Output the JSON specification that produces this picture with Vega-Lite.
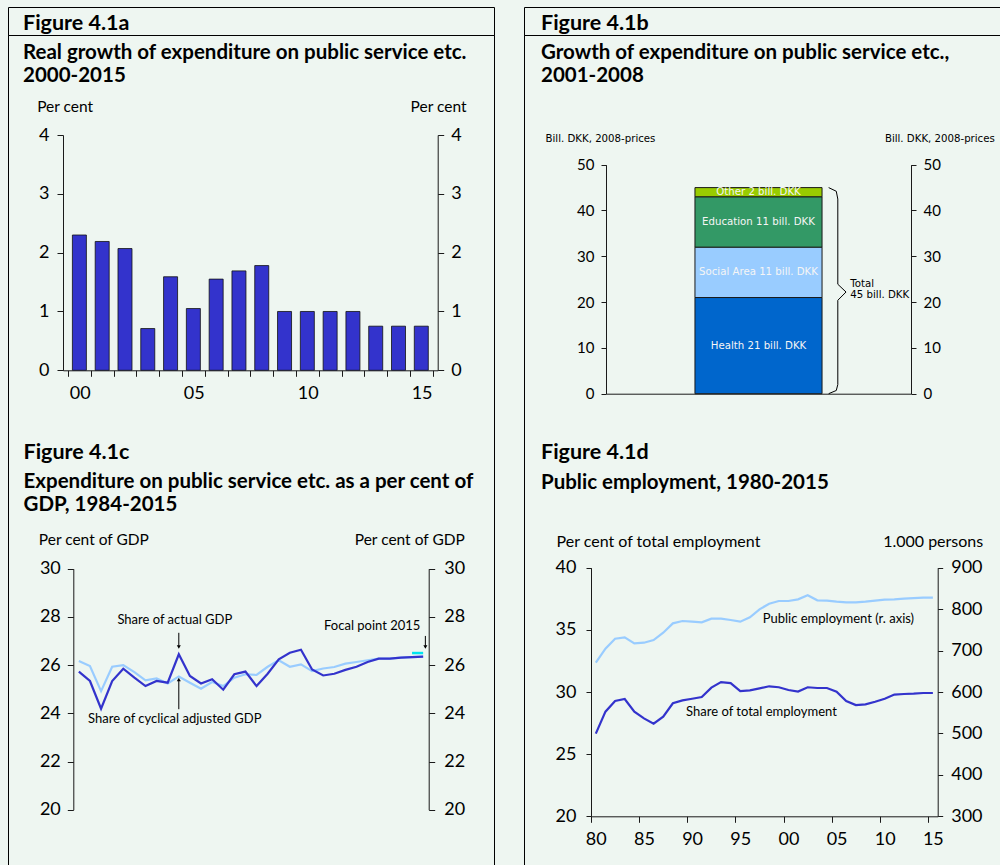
{
  "$schema": "https://vega.github.io/schema/vega-lite/v6.json",
  "background": "#eef6f1",
  "padding": {"left": 7, "top": 6, "right": 0, "bottom": 0},
  "bounds": "flush",
  "columns": 2,
  "spacing": {"row": 0, "column": 30},
  "concat": [
    {
      "width": 486, "height": 28,
      "title": {"text": "Figure 4.1a", "subtitle": ["Real growth of expenditure on public service etc.", "2000-2015"], "dx": 15, "offset": -79.3},
      "data": {"values": [
        {"year": 2000, "growth": 2.3}, {"year": 2001, "growth": 2.19}, {"year": 2002, "growth": 2.07},
        {"year": 2003, "growth": 0.71}, {"year": 2004, "growth": 1.59}, {"year": 2005, "growth": 1.05},
        {"year": 2006, "growth": 1.55}, {"year": 2007, "growth": 1.69}, {"year": 2008, "growth": 1.78},
        {"year": 2009, "growth": 1.0}, {"year": 2010, "growth": 1.0}, {"year": 2011, "growth": 1.0},
        {"year": 2012, "growth": 1.0}, {"year": 2013, "growth": 0.75}, {"year": 2014, "growth": 0.75},
        {"year": 2015, "growth": 0.75}
      ]},
      "encoding": {
        "x": {"field": "year", "type": "quantitative",
          "scale": {"domain": [1999.5, 2015.5], "range": [55, 429.7], "nice": false, "zero": false},
          "axis": {"orient": "bottom", "offset": 335.3, "title": null,
            "values": [1999.5, 2000.5, 2001.5, 2002.5, 2003.5, 2004.5, 2005.5, 2006.5, 2007.5, 2008.5, 2009.5, 2010.5, 2011.5, 2012.5, 2013.5, 2014.5, 2015.5],
            "labelExpr": "(datum.value + 0.5) % 5 == 0 ? format((datum.value + 0.5) % 100, '02d') : ''",
            "labelOffset": 11.7, "labelPadding": 8}}
      },
      "layer": [
        {"mark": {"type": "bar", "width": 14, "color": "#3333cc"},
         "encoding": {"y": {"field": "growth", "type": "quantitative",
           "scale": {"domain": [0, 4], "range": [363.3, 128], "nice": false},
           "axis": {"orient": "left", "offset": -55, "values": [0, 1, 2, 3, 4], "labelPadding": 8,
             "title": "Per cent", "titleFontSize": 15.5, "titleAngle": 0, "titleAlign": "left", "titleBaseline": "alphabetic", "titleX": -26.3, "titleY": 104}}}},
        {"mark": {"type": "bar", "width": 14, "fillOpacity": 0, "stroke": "#111111", "strokeWidth": 0.8},
         "encoding": {"y": {"field": "growth", "type": "quantitative",
           "axis": {"orient": "right", "offset": -56.3, "values": [0, 1, 2, 3, 4], "labelPadding": 7,
             "title": "Per cent", "titleFontSize": 15.5, "titleAngle": 0, "titleAlign": "right", "titleBaseline": "alphabetic", "titleX": 28.3, "titleY": 104}}}}
      ],
      "resolve": {"axis": {"y": "independent"}}
    },
    {
      "width": 478, "height": 28,
      "title": {"text": "Figure 4.1b", "subtitle": ["Growth of expenditure on public service etc.,", "2001-2008"], "dx": 17, "offset": -79.3},
      "layer": [
        {
          "data": {"values": [
            {"period": "2001-2008", "area": "Health", "amount": 21, "label": "Health 21 bill. DKK"},
            {"period": "2001-2008", "area": "Social Area", "amount": 11, "label": "Social Area 11 bill. DKK"},
            {"period": "2001-2008", "area": "Education", "amount": 11, "label": "Education 11 bill. DKK"},
            {"period": "2001-2008", "area": "Other", "amount": 2, "label": "Other 2 bill. DKK"}
          ]},
          "transform": [
            {"stack": "amount", "groupby": ["period"], "sort": [{"field": "amount", "order": "descending"}, {"field": "area", "order": "descending"}], "as": ["v0", "v1"]},
            {"calculate": "(datum.v0 + datum.v1) / 2", "as": "mid"}
          ],
          "encoding": {
            "x": {"field": "period", "type": "nominal",
              "scale": {"domain": ["2001-2008"], "range": [82, 387], "paddingInner": 0, "paddingOuter": 0.7},
              "axis": {"orient": "bottom", "offset": 358.7, "title": null, "ticks": false, "labels": false}}
          },
          "layer": [
            {"mark": {"type": "bar", "stroke": "#1a1a1a", "strokeWidth": 1},
             "encoding": {
               "y": {"field": "v0", "type": "quantitative",
                 "scale": {"domain": [0, 50], "range": [386.7, 157.7], "nice": false},
                 "axis": {"orient": "left", "offset": -82, "values": [0, 10, 20, 30, 40, 50], "tickSize": 5, "labelFontSize": 15, "labelPadding": 7,
                   "title": "Bill. DKK, 2008-prices", "titleFont": "DejaVu Sans", "titleFontSize": 10.2, "titleAngle": 0, "titleAlign": "left", "titleBaseline": "alphabetic", "titleX": -61, "titleY": 134}},
               "y2": {"field": "v1"},
               "color": {"field": "area", "type": "nominal",
                 "scale": {"domain": ["Health", "Social Area", "Education", "Other"], "range": ["#0066cc", "#99ccff", "#339966", "#99cc00"]},
                 "legend": null}
             }},
            {"mark": {"type": "text", "font": "DejaVu Sans", "fontSize": 10.2, "color": "#f5f5f5"},
             "encoding": {
               "y": {"field": "mid", "type": "quantitative",
                 "axis": {"orient": "right", "offset": -91, "values": [0, 10, 20, 30, 40, 50], "tickSize": 5, "labelFontSize": 15, "labelPadding": 7,
                   "title": "Bill. DKK, 2008-prices", "titleFont": "DejaVu Sans", "titleFontSize": 10.2, "titleAngle": 0, "titleAlign": "right", "titleBaseline": "alphabetic", "titleX": 83.3, "titleY": 134}},
               "text": {"field": "label"}
             }}
          ],
          "resolve": {"axis": {"y": "independent"}}
        },
        {
          "data": {"values": [{"total": 45}]},
          "layer": [
            {"mark": {"type": "rule", "color": "#000000", "strokeWidth": 1},
             "encoding": {"x": {"datum": 0.73, "type": "quantitative", "scale": {"domain": [0, 1], "range": [82, 387], "nice": false, "zero": false}, "axis": null},
               "x2": {"datum": 0.755}, "y": {"datum": 45, "type": "quantitative", "axis": null}, "y2": {"datum": 44.2}}},
            {"mark": {"type": "rule", "color": "#000000", "strokeWidth": 1},
             "encoding": {"x": {"datum": 0.755, "type": "quantitative", "axis": null}, "x2": {"datum": 0.76},
               "y": {"datum": 44.2, "type": "quantitative", "axis": null}, "y2": {"datum": 42.5}}},
            {"mark": {"type": "rule", "color": "#000000", "strokeWidth": 1},
             "encoding": {"x": {"datum": 0.76, "type": "quantitative", "axis": null}, "x2": {"datum": 0.76},
               "y": {"datum": 42.5, "type": "quantitative", "axis": null}, "y2": {"datum": 23.9}}},
            {"mark": {"type": "rule", "color": "#000000", "strokeWidth": 1},
             "encoding": {"x": {"datum": 0.76, "type": "quantitative", "axis": null}, "x2": {"datum": 0.787},
               "y": {"datum": 23.9, "type": "quantitative", "axis": null}, "y2": {"datum": 22.2}}},
            {"mark": {"type": "rule", "color": "#000000", "strokeWidth": 1},
             "encoding": {"x": {"datum": 0.787, "type": "quantitative", "axis": null}, "x2": {"datum": 0.76},
               "y": {"datum": 22.2, "type": "quantitative", "axis": null}, "y2": {"datum": 20.4}}},
            {"mark": {"type": "rule", "color": "#000000", "strokeWidth": 1},
             "encoding": {"x": {"datum": 0.76, "type": "quantitative", "axis": null}, "x2": {"datum": 0.76},
               "y": {"datum": 20.4, "type": "quantitative", "axis": null}, "y2": {"datum": 2.0}}},
            {"mark": {"type": "rule", "color": "#000000", "strokeWidth": 1},
             "encoding": {"x": {"datum": 0.76, "type": "quantitative", "axis": null}, "x2": {"datum": 0.755},
               "y": {"datum": 2.0, "type": "quantitative", "axis": null}, "y2": {"datum": 0.7}}},
            {"mark": {"type": "rule", "color": "#000000", "strokeWidth": 1},
             "encoding": {"x": {"datum": 0.755, "type": "quantitative", "axis": null}, "x2": {"datum": 0.73},
               "y": {"datum": 0.7, "type": "quantitative", "axis": null}, "y2": {"datum": 0}}},
            {"mark": {"type": "text", "text": "Total", "font": "DejaVu Sans", "fontSize": 10.2, "align": "left", "baseline": "alphabetic", "color": "#000000"},
             "encoding": {"x": {"datum": 0.801, "type": "quantitative", "axis": null}, "y": {"datum": 23.4, "type": "quantitative", "axis": null}}},
            {"mark": {"type": "text", "text": "45 bill. DKK", "font": "DejaVu Sans", "fontSize": 10.2, "align": "left", "baseline": "alphabetic", "color": "#000000"},
             "encoding": {"x": {"datum": 0.801, "type": "quantitative", "axis": null}, "y": {"datum": 20.8, "type": "quantitative", "axis": null}}}
          ]
        }
      ],
      "resolve": {"scale": {"x": "independent"}, "axis": {"x": "independent", "y": "independent"}}
    },
    {
      "width": 486, "height": 832,
      "title": {"text": "Figure 4.1c", "subtitle": ["Expenditure on public service etc. as a per cent of", "GDP, 1984-2015"], "dx": 15.5, "offset": -480.3},
      "layer": [
        {
          "data": {"values": [
            {"year": 1984, "actual": 25.73, "adjusted": 26.17}, {"year": 1985, "actual": 25.34, "adjusted": 25.96},
            {"year": 1986, "actual": 24.19, "adjusted": 24.92}, {"year": 1987, "actual": 25.34, "adjusted": 25.93},
            {"year": 1988, "actual": 25.85, "adjusted": 26.0}, {"year": 1989, "actual": 25.48, "adjusted": 25.71},
            {"year": 1990, "actual": 25.13, "adjusted": 25.37}, {"year": 1991, "actual": 25.34, "adjusted": 25.45},
            {"year": 1992, "actual": 25.27, "adjusted": 25.24}, {"year": 1993, "actual": 26.45, "adjusted": 25.53},
            {"year": 1994, "actual": 25.55, "adjusted": 25.27}, {"year": 1995, "actual": 25.24, "adjusted": 25.02},
            {"year": 1996, "actual": 25.41, "adjusted": 25.3}, {"year": 1997, "actual": 24.98, "adjusted": 25.13},
            {"year": 1998, "actual": 25.62, "adjusted": 25.48}, {"year": 1999, "actual": 25.73, "adjusted": 25.62},
            {"year": 2000, "actual": 25.13, "adjusted": 25.59}, {"year": 2001, "actual": 25.64, "adjusted": 25.93},
            {"year": 2002, "actual": 26.24, "adjusted": 26.2}, {"year": 2003, "actual": 26.51, "adjusted": 25.93},
            {"year": 2004, "actual": 26.64, "adjusted": 26.03}, {"year": 2005, "actual": 25.82, "adjusted": 25.75},
            {"year": 2006, "actual": 25.57, "adjusted": 25.86}, {"year": 2007, "actual": 25.64, "adjusted": 25.92},
            {"year": 2008, "actual": 25.8, "adjusted": 26.06}, {"year": 2009, "actual": 25.93, "adjusted": 26.13},
            {"year": 2010, "actual": 26.13, "adjusted": 26.2}, {"year": 2011, "actual": 26.27, "adjusted": 26.27},
            {"year": 2012, "actual": 26.27, "adjusted": 26.27}, {"year": 2013, "actual": 26.31, "adjusted": 26.31},
            {"year": 2014, "actual": 26.33, "adjusted": 26.33}, {"year": 2015, "actual": 26.35, "adjusted": 26.35}
          ]},
          "layer": [
            {"mark": {"type": "line", "color": "#99ccff", "strokeWidth": 2.2},
             "encoding": {
               "x": {"field": "year", "type": "quantitative",
                 "scale": {"domain": [1983.5, 2015.5], "range": [65.3, 420.7], "nice": false, "zero": false},
                 "axis": {"orient": "bottom", "offset": -57.3, "title": null,
                   "values": [1983.5, 1984.5, 1985.5, 1986.5, 1987.5, 1988.5, 1989.5, 1990.5, 1991.5, 1992.5, 1993.5, 1994.5, 1995.5, 1996.5, 1997.5, 1998.5, 1999.5, 2000.5, 2001.5, 2002.5, 2003.5, 2004.5, 2005.5, 2006.5, 2007.5, 2008.5, 2009.5, 2010.5, 2011.5, 2012.5, 2013.5, 2014.5, 2015.5],
                   "labelExpr": "(datum.value + 0.5 - 1984) % 3 == 0 ? format((datum.value + 0.5) % 100, '02d') : ''",
                   "labelOffset": 5.55, "labelPadding": 8}},
               "y": {"field": "adjusted", "type": "quantitative",
                 "axis": {"orient": "right", "offset": -65.3, "values": [20, 22, 24, 26, 28, 30], "labelPadding": 9,
                   "title": "Per cent of GDP", "titleFontSize": 15.5, "titleAngle": 0, "titleAlign": "right", "titleBaseline": "alphabetic", "titleX": 35.6, "titleY": 509.3}}}},
            {"mark": {"type": "line", "color": "#3333cc", "strokeWidth": 2.2},
             "encoding": {
               "x": {"field": "year", "type": "quantitative", "axis": null},
               "y": {"field": "actual", "type": "quantitative",
                 "scale": {"domain": [20, 30], "range": [774.7, 533.7], "nice": false, "zero": false},
                 "axis": {"orient": "left", "offset": -65.3, "values": [20, 22, 24, 26, 28, 30], "labelPadding": 7,
                   "title": "Per cent of GDP", "titleFontSize": 15.5, "titleAngle": 0, "titleAlign": "left", "titleBaseline": "alphabetic", "titleX": -35, "titleY": 509.3}}}}
          ],
          "resolve": {"axis": {"y": "independent"}}
        },
        {"data": {"values": [{"year": 2014, "focal": 26.5}, {"year": 2015, "focal": 26.5}]},
         "mark": {"type": "line", "color": "#00e5f0", "strokeWidth": 2.5},
         "encoding": {"x": {"field": "year", "type": "quantitative", "axis": null}, "y": {"field": "focal", "type": "quantitative", "axis": null}}},
        {"data": {"values": [{"note": "Share of actual GDP"}]},
         "mark": {"type": "text", "fontSize": 13, "align": "center", "baseline": "alphabetic"},
         "encoding": {"x": {"datum": 1992.64, "type": "quantitative", "axis": null}, "y": {"datum": 27.69, "type": "quantitative", "axis": null}, "text": {"field": "note"}}},
        {"data": {"values": [{"note": "Share of cyclical adjusted GDP"}]},
         "mark": {"type": "text", "fontSize": 13, "align": "center", "baseline": "alphabetic"},
         "encoding": {"x": {"datum": 1992.64, "type": "quantitative", "axis": null}, "y": {"datum": 23.6, "type": "quantitative", "axis": null}, "text": {"field": "note"}}},
        {"data": {"values": [{"note": "Focal point 2015"}]},
         "mark": {"type": "text", "fontSize": 13, "align": "right", "baseline": "alphabetic"},
         "encoding": {"x": {"datum": 2014.75, "type": "quantitative", "axis": null}, "y": {"datum": 27.44, "type": "quantitative", "axis": null}, "text": {"field": "note"}}},
        {"data": {"values": [{"note": "arrow actual"}]},
         "mark": {"type": "rule", "color": "#000000", "strokeWidth": 1},
         "encoding": {"x": {"datum": 1993, "type": "quantitative", "axis": null}, "y": {"datum": 27.34, "type": "quantitative", "axis": null}, "y2": {"datum": 26.8}}},
        {"data": {"values": [{"note": "arrow actual"}]},
         "mark": {"type": "point", "shape": "triangle-down", "filled": true, "color": "#000000", "size": 16, "opacity": 1},
         "encoding": {"x": {"datum": 1993, "type": "quantitative", "axis": null}, "y": {"datum": 26.75, "type": "quantitative", "axis": null}}},
        {"data": {"values": [{"note": "arrow adjusted"}]},
         "mark": {"type": "rule", "color": "#000000", "strokeWidth": 1},
         "encoding": {"x": {"datum": 1993, "type": "quantitative", "axis": null}, "y": {"datum": 24.17, "type": "quantitative", "axis": null}, "y2": {"datum": 25.35}}},
        {"data": {"values": [{"note": "arrow adjusted"}]},
         "mark": {"type": "point", "shape": "triangle-up", "filled": true, "color": "#000000", "size": 16, "opacity": 1},
         "encoding": {"x": {"datum": 1993, "type": "quantitative", "axis": null}, "y": {"datum": 25.4, "type": "quantitative", "axis": null}}},
        {"data": {"values": [{"note": "arrow focal"}]},
         "mark": {"type": "rule", "color": "#000000", "strokeWidth": 1},
         "encoding": {"x": {"datum": 2015.2, "type": "quantitative", "axis": null}, "y": {"datum": 27.21, "type": "quantitative", "axis": null}, "y2": {"datum": 26.8}}},
        {"data": {"values": [{"note": "arrow focal"}]},
         "mark": {"type": "point", "shape": "triangle-down", "filled": true, "color": "#000000", "size": 16, "opacity": 1},
         "encoding": {"x": {"datum": 2015.2, "type": "quantitative", "axis": null}, "y": {"datum": 26.75, "type": "quantitative", "axis": null}}}
      ],
      "resolve": {"axis": {"y": "independent"}}
    },
    {
      "width": 478, "height": 832,
      "title": {"text": "Figure 4.1d", "subtitle": ["Public employment, 1980-2015"], "dx": 17, "offset": -458.3},
      "data": {"values": [
        {"year": 1980, "share": 26.65, "persons": 670.8}, {"year": 1981, "share": 28.42, "persons": 704.6},
        {"year": 1982, "share": 29.28, "persons": 728.7}, {"year": 1983, "share": 29.44, "persons": 731.9},
        {"year": 1984, "share": 28.42, "persons": 717.4}, {"year": 1985, "share": 27.88, "persons": 719.0},
        {"year": 1986, "share": 27.45, "persons": 725.5}, {"year": 1987, "share": 28.02, "persons": 743.2},
        {"year": 1988, "share": 29.09, "persons": 765.7}, {"year": 1989, "share": 29.33, "persons": 771.3},
        {"year": 1990, "share": 29.46, "persons": 769.7}, {"year": 1991, "share": 29.6, "persons": 768.1},
        {"year": 1992, "share": 30.35, "persons": 776.9}, {"year": 1993, "share": 30.8, "persons": 776.9},
        {"year": 1994, "share": 30.72, "persons": 773.7}, {"year": 1995, "share": 30.08, "persons": 769.7},
        {"year": 1996, "share": 30.13, "persons": 780.2}, {"year": 1997, "share": 30.29, "persons": 799.5},
        {"year": 1998, "share": 30.46, "persons": 813.1}, {"year": 1999, "share": 30.38, "persons": 819.6},
        {"year": 2000, "share": 30.16, "persons": 819.6}, {"year": 2001, "share": 30.03, "persons": 823.6},
        {"year": 2002, "share": 30.38, "persons": 833.3}, {"year": 2003, "share": 30.32, "persons": 821.2},
        {"year": 2004, "share": 30.32, "persons": 820.4}, {"year": 2005, "share": 30.03, "persons": 818.0},
        {"year": 2006, "share": 29.28, "persons": 816.4}, {"year": 2007, "share": 28.95, "persons": 816.4},
        {"year": 2008, "share": 29.01, "persons": 818.0}, {"year": 2009, "share": 29.22, "persons": 820.4},
        {"year": 2010, "share": 29.46, "persons": 822.8}, {"year": 2011, "share": 29.79, "persons": 823.6},
        {"year": 2012, "share": 29.84, "persons": 825.2}, {"year": 2013, "share": 29.87, "persons": 826.8},
        {"year": 2014, "share": 29.92, "persons": 827.6}, {"year": 2015, "share": 29.92, "persons": 827.6}
      ]},
      "layer": [
        {"mark": {"type": "line", "color": "#3333cc", "strokeWidth": 2.2},
         "encoding": {
           "x": {"field": "year", "type": "quantitative",
             "scale": {"domain": [1979.5, 2015.5], "range": [67, 413.7], "nice": false, "zero": false},
             "axis": {"orient": "bottom", "offset": -50.7, "title": null,
               "values": [1979.5, 1984.5, 1989.5, 1994.5, 1999.5, 2004.5, 2009.5, 2014.5],
               "labelExpr": "(datum.value + 0.5) % 5 == 0 ? format((datum.value + 0.5) % 100, '02d') : ''",
               "labelOffset": 4.8, "labelPadding": 8}},
           "y": {"field": "share", "type": "quantitative",
             "scale": {"domain": [20, 40], "range": [781.3, 532.7], "nice": false, "zero": false},
             "axis": {"orient": "left", "offset": -67, "values": [20, 25, 30, 35, 40], "tickSize": 5, "labelPadding": 10,
               "title": "Per cent of total employment", "titleFontSize": 16, "titleAngle": 0, "titleAlign": "left", "titleBaseline": "alphabetic", "titleX": -35, "titleY": 511}}}},
        {"mark": {"type": "line", "color": "#99ccff", "strokeWidth": 2.2},
         "encoding": {
           "x": {"field": "year", "type": "quantitative",
             "scale": {"domain": [1979.5, 2015.5], "range": [67, 413.7], "nice": false, "zero": false}, "axis": null},
           "y": {"field": "persons", "type": "quantitative",
             "scale": {"domain": [300, 900], "range": [781.3, 532.7], "nice": false, "zero": false},
             "axis": {"orient": "right", "offset": -64.3, "values": [300, 400, 500, 600, 700, 800, 900], "tickSize": 5, "labelPadding": 8,
               "title": "1.000 persons", "titleFontSize": 16, "titleAngle": 0, "titleAlign": "right", "titleBaseline": "alphabetic", "titleX": 45, "titleY": 511}}}},
        {"transform": [{"filter": "datum.year == 1989"}],
         "mark": {"type": "text", "text": "Share of total employment", "fontSize": 13, "align": "left", "baseline": "alphabetic", "dx": 3.6, "dy": 15.7},
         "encoding": {
           "x": {"field": "year", "type": "quantitative",
             "scale": {"domain": [1979.5, 2015.5], "range": [67, 413.7], "nice": false, "zero": false}, "axis": null},
           "y": {"field": "share", "type": "quantitative",
             "scale": {"domain": [20, 40], "range": [781.3, 532.7], "nice": false, "zero": false}, "axis": null}}},
        {"transform": [{"filter": "datum.year == 1997"}],
         "mark": {"type": "text", "text": "Public employment (r. axis)", "fontSize": 13, "align": "left", "baseline": "alphabetic", "dx": 3.2, "dy": 13.3},
         "encoding": {
           "x": {"field": "year", "type": "quantitative",
             "scale": {"domain": [1979.5, 2015.5], "range": [67, 413.7], "nice": false, "zero": false}, "axis": null},
           "y": {"field": "persons", "type": "quantitative",
             "scale": {"domain": [300, 900], "range": [781.3, 532.7], "nice": false, "zero": false}, "axis": null}}}
      ],
      "resolve": {"scale": {"x": "independent", "y": "independent"}, "axis": {"x": "independent", "y": "independent"}}
    }
  ],
  "config": {
    "view": {"stroke": "#000000", "strokeWidth": 1},
    "font": "Lato",
    "axis": {"grid": false, "domainColor": "#1a1a1a", "tickColor": "#1a1a1a", "labelColor": "#000000", "titleColor": "#000000",
      "labelFont": "Lato", "titleFont": "Lato", "titleFontWeight": "normal", "labelFontSize": 18, "titleFontSize": 15,
      "tickSize": 6, "labelFlush": false, "labelOverlap": false, "labelBound": false, "zindex": 1},
    "title": {"font": "Lato", "fontSize": 21.5, "fontWeight": "bold", "color": "#000000", "anchor": "start", "frame": "group",
      "subtitleFont": "Lato", "subtitleFontSize": 20.5, "subtitleFontWeight": "bold", "subtitleColor": "#000000",
      "subtitleLineHeight": 22.5, "subtitlePadding": 9.3},
    "text": {"font": "Lato", "color": "#000000"}
  }
}
